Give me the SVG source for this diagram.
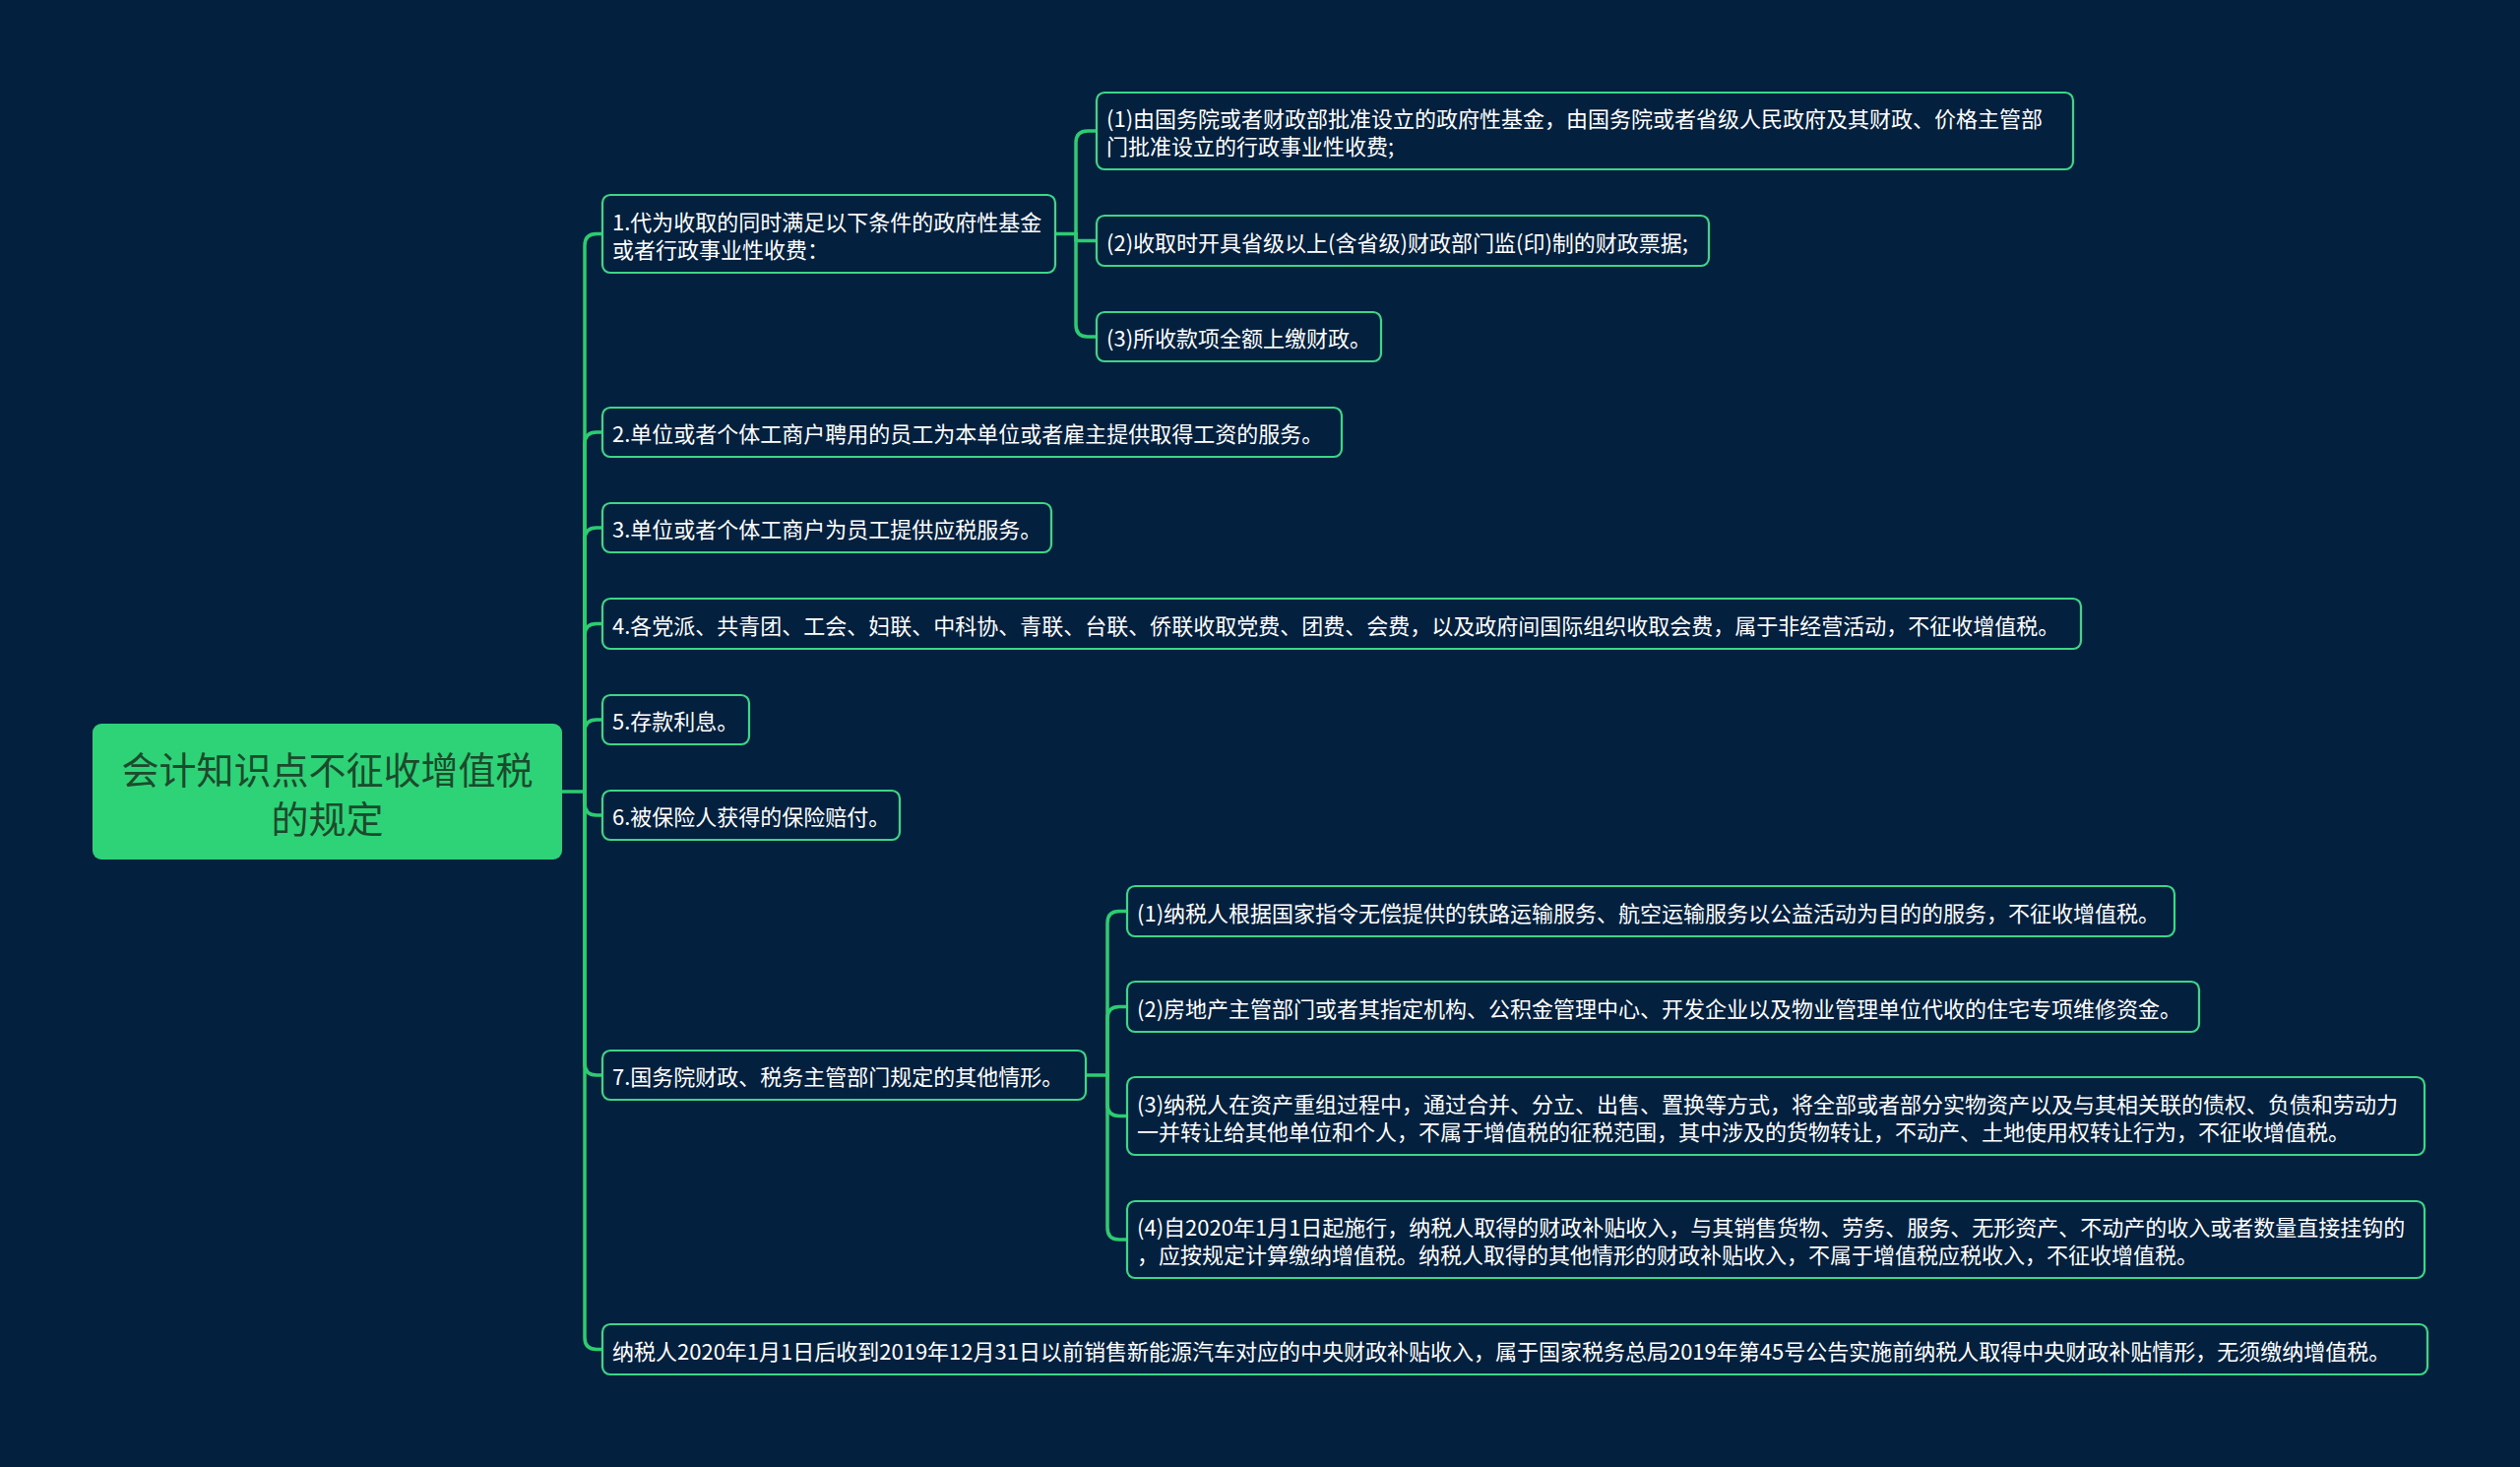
<svg xmlns="http://www.w3.org/2000/svg" width="2560" height="1490" viewBox="0 0 2560 1490">
<style>
.bg{fill:#03203f}
.box{fill:#03203f;stroke:#3dd687;stroke-width:2.2}
.root{fill:#2fd377}
.t{font-family:"Noto Sans CJK SC","Noto Sans",sans-serif;font-size:22px;fill:#ffffff;dominant-baseline:central}
.rt{font-family:"Noto Sans CJK SC","Noto Sans",sans-serif;font-size:38px;fill:#1c4a2c;text-anchor:middle;dominant-baseline:central}
.c{fill:none;stroke:#2ecc71;stroke-width:3.5;stroke-linecap:round;stroke-linejoin:round}
</style>
<rect class="bg" x="0" y="0" width="2560" height="1490"/>
<g id="connectors">
<path class="c" d="M571 804 L594 804"/>
<path class="c" d="M594 804 L594 249.5 Q594 237.5 606 237.5 L612 237.5"/>
<path class="c" d="M594 804 L594 451 Q594 439 606 439 L612 439"/>
<path class="c" d="M594 804 L594 548 Q594 536 606 536 L612 536"/>
<path class="c" d="M594 804 L594 645.5 Q594 633.5 606 633.5 L612 633.5"/>
<path class="c" d="M594 804 L594 743 Q594 731 606 731 L612 731"/>
<path class="c" d="M594 804 L594 816 Q594 828 606 828 L612 828"/>
<path class="c" d="M594 804 L594 1080 Q594 1092 606 1092 L612 1092"/>
<path class="c" d="M594 804 L594 1358.5 Q594 1370.5 606 1370.5 L612 1370.5"/>
<path class="c" d="M1072 237.5 L1093 237.5"/>
<path class="c" d="M1093 237.5 L1093 145 Q1093 133 1105 133 L1114 133"/>
<path class="c" d="M1093 237.5 L1093 244.5 L1114 244.5"/>
<path class="c" d="M1093 237.5 L1093 330 Q1093 342 1105 342 L1114 342"/>
<path class="c" d="M1103 1092 L1125 1092"/>
<path class="c" d="M1125 1092 L1125 937.5 Q1125 925.5 1137 925.5 L1145 925.5"/>
<path class="c" d="M1125 1092 L1125 1034.5 Q1125 1022.5 1137 1022.5 L1145 1022.5"/>
<path class="c" d="M1125 1092 L1125 1121.5 Q1125 1133.5 1137 1133.5 L1145 1133.5"/>
<path class="c" d="M1125 1092 L1125 1247 Q1125 1259 1137 1259 L1145 1259"/>
</g>
<g id="root">
<rect class="root" x="94" y="735" width="477" height="138" rx="9"/>
<text class="rt" x="332.5" y="779">会计知识点不征收增值税</text>
<text class="rt" x="332.5" y="829">的规定</text>
</g>
<g id="n1">
<rect class="box" x="612" y="198" width="460" height="79" rx="8"/>
<text class="t" x="622" y="224">1.代为收取的同时满足以下条件的政府性基金</text>
<text class="t" x="622" y="252">或者行政事业性收费：</text>
</g>
<g id="n1-1">
<rect class="box" x="1114" y="94" width="992" height="78" rx="8"/>
<text class="t" x="1124" y="119">(1)由国务院或者财政部批准设立的政府性基金，由国务院或者省级人民政府及其财政、价格主管部</text>
<text class="t" x="1124" y="147">门批准设立的行政事业性收费;</text>
</g>
<g id="n1-2">
<rect class="box" x="1114" y="219" width="622" height="51" rx="8"/>
<text class="t" x="1124" y="244.5">(2)收取时开具省级以上(含省级)财政部门监(印)制的财政票据;</text>
</g>
<g id="n1-3">
<rect class="box" x="1114" y="317" width="289" height="50" rx="8"/>
<text class="t" x="1124" y="342">(3)所收款项全额上缴财政。</text>
</g>
<g id="n2">
<rect class="box" x="612" y="414" width="751" height="50" rx="8"/>
<text class="t" x="622" y="439">2.单位或者个体工商户聘用的员工为本单位或者雇主提供取得工资的服务。</text>
</g>
<g id="n3">
<rect class="box" x="612" y="511" width="456" height="50" rx="8"/>
<text class="t" x="622" y="536">3.单位或者个体工商户为员工提供应税服务。</text>
</g>
<g id="n4">
<rect class="box" x="612" y="608" width="1502" height="51" rx="8"/>
<text class="t" x="622" y="633.5">4.各党派、共青团、工会、妇联、中科协、青联、台联、侨联收取党费、团费、会费，以及政府间国际组织收取会费，属于非经营活动，不征收增值税。</text>
</g>
<g id="n5">
<rect class="box" x="612" y="706" width="149" height="50" rx="8"/>
<text class="t" x="622" y="731">5.存款利息。</text>
</g>
<g id="n6">
<rect class="box" x="612" y="803" width="302" height="50" rx="8"/>
<text class="t" x="622" y="828">6.被保险人获得的保险赔付。</text>
</g>
<g id="n7">
<rect class="box" x="612" y="1067" width="491" height="50" rx="8"/>
<text class="t" x="622" y="1092">7.国务院财政、税务主管部门规定的其他情形。</text>
</g>
<g id="n7-1">
<rect class="box" x="1145" y="900" width="1064" height="51" rx="8"/>
<text class="t" x="1155" y="925.5">(1)纳税人根据国家指令无偿提供的铁路运输服务、航空运输服务以公益活动为目的的服务，不征收增值税。</text>
</g>
<g id="n7-2">
<rect class="box" x="1145" y="997" width="1089" height="51" rx="8"/>
<text class="t" x="1155" y="1022.5">(2)房地产主管部门或者其指定机构、公积金管理中心、开发企业以及物业管理单位代收的住宅专项维修资金。</text>
</g>
<g id="n7-3">
<rect class="box" x="1145" y="1094" width="1318" height="79" rx="8"/>
<text class="t" x="1155" y="1119.5">(3)纳税人在资产重组过程中，通过合并、分立、出售、置换等方式，将全部或者部分实物资产以及与其相关联的债权、负债和劳动力</text>
<text class="t" x="1155" y="1147.5">一并转让给其他单位和个人，不属于增值税的征税范围，其中涉及的货物转让，不动产、土地使用权转让行为，不征收增值税。</text>
</g>
<g id="n7-4">
<rect class="box" x="1145" y="1220" width="1318" height="78" rx="8"/>
<text class="t" x="1155" y="1245">(4)自2020年1月1日起施行，纳税人取得的财政补贴收入，与其销售货物、劳务、服务、无形资产、不动产的收入或者数量直接挂钩的</text>
<text class="t" x="1155" y="1273">，应按规定计算缴纳增值税。纳税人取得的其他情形的财政补贴收入，不属于增值税应税收入，不征收增值税。</text>
</g>
<g id="n8">
<rect class="box" x="612" y="1345" width="1854" height="51" rx="8"/>
<text class="t" x="622" y="1370.5">纳税人2020年1月1日后收到2019年12月31日以前销售新能源汽车对应的中央财政补贴收入，属于国家税务总局2019年第45号公告实施前纳税人取得中央财政补贴情形，无须缴纳增值税。</text>
</g>
</svg>
